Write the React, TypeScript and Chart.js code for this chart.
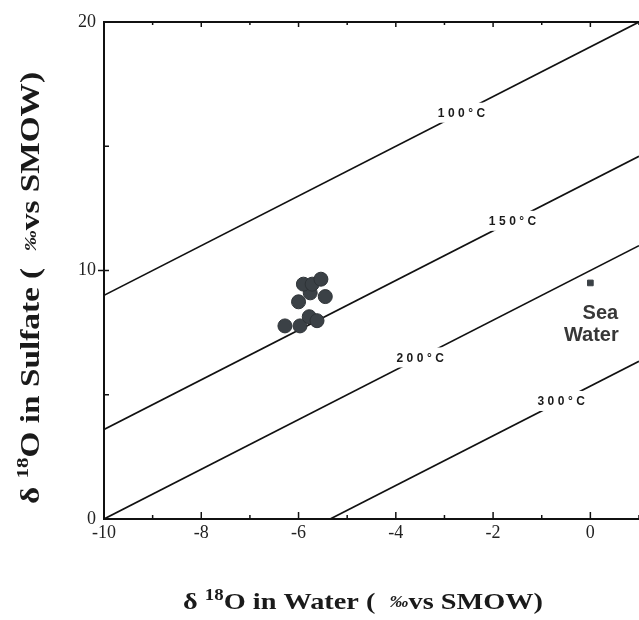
import React, { useEffect, useRef } from 'react';
import { Chart, registerables } from 'chart.js';
Chart.register(...registerables);

// Sample data (δ18O water, δ18O sulfate)
const sampleX = [-6.28, -5.97, -5.78, -5.62, -6.0, -5.45, -5.76, -5.9, -5.72, -5.54];
const sampleY = [7.77, 7.77, 8.14, 7.98, 8.74, 8.95, 9.1, 9.45, 9.45, 9.65];
const seaWaterX = [0];
const seaWaterY = [9.5];

// Isotherm lines (endpoints)
const isoLabels = ['100°C', '150°C', '200°C', '300°C'];
const isoX0 = [-10, -10, -10, -5.35];
const isoY0 = [9, 3.6, 0, 0];
const isoX1 = [1, 1, 1, 1];
const isoY1 = [20, 14.6, 11, 6.35];
const isoLabelX = [-2.65, -1.6, -3.5, -0.6];
const isoLabelY = [16.35, 12.0, 6.5, 4.75];

const xTicks = [-10, -8, -6, -4, -2, 0];
const yTicks = [0, 10, 20];
const xMin = -10, xMax = 1, yMin = 0, yMax = 20;

type Part = { t: string; size: number; rise?: number; italic?: boolean };

function drawRich(ctx: CanvasRenderingContext2D, parts: Part[], cx: number, cy: number, targetW: number) {
  const fontFor = (p: Part) => `${p.italic ? 'italic ' : ''}bold ${p.size}px "Liberation Serif", "Times New Roman", serif`;
  let total = 0;
  const widths = parts.map((p) => {
    ctx.font = fontFor(p);
    const w = ctx.measureText(p.t).width;
    total += w;
    return w;
  });
  ctx.save();
  ctx.translate(cx, cy);
  ctx.scale(targetW / total, 1);
  let x = -total / 2;
  ctx.textAlign = 'left';
  ctx.textBaseline = 'middle';
  parts.forEach((p, i) => {
    ctx.font = fontFor(p);
    ctx.fillText(p.t, x, -(p.rise || 0));
    x += widths[i];
  });
  ctx.restore();
}

const decor = {
  id: 'decor',
  afterDatasetsDraw(chart: any) {
    const ctx: CanvasRenderingContext2D = chart.ctx;
    const xs = chart.scales.x;
    const ys = chart.scales.y;
    const area = chart.chartArea;
    ctx.save();
    // isotherm labels
    ctx.font = 'bold 12px "Liberation Sans", Arial, sans-serif';
    (ctx as any).letterSpacing = '3.5px';
    ctx.textAlign = 'center';
    ctx.textBaseline = 'middle';
    isoLabels.forEach((lab, i) => {
      const px = xs.getPixelForValue(isoLabelX[i]);
      const py = ys.getPixelForValue(isoLabelY[i]);
      const w = ctx.measureText(lab).width;
      ctx.fillStyle = '#fff';
      ctx.fillRect(px - w / 2 - 3, py - 10, w + 6, 20);
      ctx.fillStyle = '#1a1a1a';
      ctx.fillText(lab, px + 1.75, py + 1);
    });
    (ctx as any).letterSpacing = '0px';
    // Sea Water label
    ctx.fillStyle = '#383838';
    ctx.font = 'bold 20px "Liberation Sans", Arial, sans-serif';
    const sx = xs.getPixelForValue(seaWaterX[0]);
    const sy = ys.getPixelForValue(seaWaterY[0]);
    ctx.fillText('Sea', sx + 10, sy + 31);
    ctx.fillText('Water', sx + 1, sy + 53);

    // tick marks
    ctx.strokeStyle = '#111';
    ctx.lineWidth = 1.5;
    for (let v = xMin; v <= xMax; v++) {
      const px = xs.getPixelForValue(v);
      const major = v % 2 === 0;
      ctx.beginPath();
      ctx.moveTo(px, area.bottom);
      ctx.lineTo(px, area.bottom - (major ? 7 : 4));
      ctx.stroke();
      ctx.beginPath();
      ctx.moveTo(px, area.top);
      ctx.lineTo(px, area.top + (major ? 5 : 3));
      ctx.stroke();
    }
    [5, 10, 15].forEach((v) => {
      const py = ys.getPixelForValue(v);
      ctx.beginPath();
      ctx.moveTo(area.left, py);
      ctx.lineTo(area.left + 5, py);
      ctx.stroke();
    });
    const p10 = ys.getPixelForValue(10);
    ctx.beginPath();
    ctx.moveTo(area.left - 6, p10);
    ctx.lineTo(area.left, p10);
    ctx.stroke();
    // top border
    ctx.lineWidth = 2;
    ctx.beginPath();
    ctx.moveTo(area.left - 1, area.top);
    ctx.lineTo(area.right, area.top);
    ctx.stroke();

    // axis titles
    ctx.fillStyle = '#1a1a1a';
    drawRich(
      ctx,
      [
        { t: 'δ ', size: 24 },
        { t: '18', size: 16, rise: 7 },
        { t: 'O in Water (  ', size: 24 },
        { t: '‰', size: 16, italic: true },
        { t: 'vs SMOW)', size: 24 },
      ],
      363,
      603,
      360
    );
    ctx.save();
    ctx.translate(32, 288);
    ctx.rotate(-Math.PI / 2);
    drawRich(
      ctx,
      [
        { t: 'δ ', size: 27 },
        { t: '18', size: 17, rise: 8 },
        { t: 'O in Sulfate (  ', size: 27 },
        { t: '‰', size: 17, italic: true },
        { t: 'vs SMOW)', size: 27 },
      ],
      0,
      0,
      432
    );
    ctx.restore();
    ctx.restore();
  },
};

export default function App() {
  const ref = useRef<HTMLCanvasElement>(null);
  useEffect(() => {
    if (!ref.current) return;
    const samples = sampleX.map((x, i) => ({ x, y: sampleY[i] }));
    const sea = seaWaterX.map((x, i) => ({ x, y: seaWaterY[i] }));
    const isoSets = isoLabels.map((lab, i) => ({
      type: 'line' as const,
      label: lab,
      data: [
        { x: isoX0[i], y: isoY0[i] },
        { x: isoX1[i], y: isoY1[i] },
      ],
      borderColor: '#111',
      borderWidth: 1.7,
      pointRadius: 0,
      fill: false,
      showLine: true,
    }));
    const chart = new Chart(ref.current, {
      type: 'scatter',
      data: {
        datasets: [
          {
            label: 'Samples',
            data: samples,
            backgroundColor: '#3b4146',
            borderColor: '#2e3337',
            borderWidth: 1,
            pointRadius: 7,
          },
          {
            label: 'Sea Water',
            data: sea,
            pointStyle: 'rect',
            backgroundColor: '#3b4146',
            borderColor: '#3b4146',
            pointRadius: 4,
          },
          ...isoSets,
        ] as any,
      },
      options: {
        responsive: false,
        animation: false,
        devicePixelRatio: 1,
        layout: { autoPadding: false, padding: { top: 22, left: 0, right: 0, bottom: 0 } },
        plugins: { legend: { display: false }, tooltip: { enabled: false } },
        scales: {
          x: {
            type: 'linear',
            min: xMin,
            max: xMax,
            grid: { display: false, drawTicks: false },
            border: { display: true, color: '#111', width: 2 },
            afterBuildTicks: (s: any) => {
              s.ticks = xTicks.map((v) => ({ value: v }));
            },
            afterFit: (s: any) => {
              s.height = 101;
              s.paddingRight = 0;
              s.paddingLeft = 0;
            },
            ticks: {
              color: '#222',
              padding: 3,
              font: { family: '"Liberation Serif", "Times New Roman", serif', size: 18 },
              maxRotation: 0,
              autoSkip: false,
            },
          },
          y: {
            type: 'linear',
            min: yMin,
            max: yMax,
            grid: { display: false, drawTicks: false },
            border: { display: true, color: '#111', width: 2 },
            afterBuildTicks: (s: any) => {
              s.ticks = yTicks.map((v) => ({ value: v }));
            },
            afterFit: (s: any) => {
              s.width = 104;
              s.paddingTop = 0;
            },
            ticks: {
              color: '#222',
              padding: 8,
              font: { family: '"Liberation Serif", "Times New Roman", serif', size: 18 },
              autoSkip: false,
            },
          },
        },
      },
      plugins: [decor],
    });
    return () => chart.destroy();
  }, []);
  return (
    <div style={{ position: 'absolute', left: 0, top: 0, width: 639, height: 620, background: '#fff' }}>
      <canvas ref={ref} width={639} height={620} />
    </div>
  );
}
